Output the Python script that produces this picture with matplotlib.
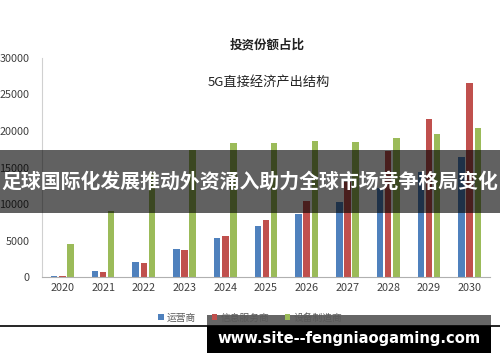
import matplotlib
matplotlib.use("Agg")
import matplotlib.pyplot as plt
import numpy as np
from matplotlib.patches import Rectangle

plt.rcParams['font.family'] = ['Noto Sans CJK SC', 'DejaVu Sans']

years = ["2020", "2021", "2022", "2023", "2024", "2025", "2026", "2027", "2028", "2029", "2030"]
operators = [200, 870, 2100, 3830, 5430, 7020, 8620, 10360, 12200, 14350, 16400]
info_services = [150, 780, 2000, 3700, 5610, 7800, 10440, 13000, 17300, 21600, 26500]
equipment = [4500, 9000, 14300, 17400, 18300, 18300, 18600, 18500, 19100, 19600, 20450]
series_names = ["运营商", "信息服务商", "设备制造商"]
colors = ["#4F81BD", "#C0504D", "#9BBB59"]
yticks = [0, 5000, 10000, 15000, 20000, 25000, 30000]

fig = plt.figure(figsize=(5.0, 3.62), dpi=100)
ax = fig.add_axes([0.084, 0.2337, 0.896, 0.607])

x = np.arange(len(years))
w = 0.16
off = 0.2
for i, (vals, c, n) in enumerate(zip([operators, info_services, equipment], colors, series_names)):
    ax.bar(x + (i - 1) * off, vals, width=w, color=c, label=n, zorder=2)

ax.set_xlim(-0.5, len(years) - 0.5)
ax.set_ylim(0, 30000)
ax.set_yticks(yticks)
ax.set_yticklabels([str(v) for v in yticks], fontsize=7.8, color="#404040")
ax.set_xticks(x)
ax.set_xticklabels(years, fontsize=7.8, color="#404040")
ax.tick_params(axis='both', length=0, pad=4)
ax.tick_params(axis='y', pad=9)
for s in ["top", "right"]:
    ax.spines[s].set_visible(False)
ax.spines["left"].set_color("#d0d0d0")
ax.spines["bottom"].set_color("#b0b0b0")

fig.text(0.534, 0.875, "投资份额占比", ha="center", va="center", fontsize=9,
         fontweight="bold", color="#222222")
fig.text(0.538, 0.773, "5G直接经济产出结构", ha="center", va="center", fontsize=9.5,
         color="#222222")

leg = fig.legend(loc="center", bbox_to_anchor=(0.5, 0.123), ncol=3, frameon=False,
                 fontsize=7, handlelength=0.6, handleheight=0.6, handletextpad=0.3,
                 columnspacing=1.6)
for t in leg.get_texts():
    t.set_color("#595959")

# banner overlay
fig.patches.append(Rectangle((0, 1 - 213 / 362), 1, 63 / 362, transform=fig.transFigure,
                             facecolor="black", alpha=0.62, zorder=5))
fig.text(0.5, 1 - 181 / 362, "足球国际化发展推动外资涌入助力全球市场竞争格局变化",
         ha="center", va="center", fontsize=14.3, fontweight="bold", color="white", zorder=6)

# bottom watermark
fig.patches.append(Rectangle((207 / 500, 1 - 326 / 362), 284 / 500, 11 / 362,
                             transform=fig.transFigure, facecolor="black", alpha=0.6, zorder=5))
fig.patches.append(Rectangle((207 / 500, 1 - 353 / 362), 284 / 500, 27 / 362,
                             transform=fig.transFigure, facecolor="black", zorder=5))
fig.lines.append(plt.Line2D([0, 1], [1 - 326 / 362, 1 - 326 / 362], transform=fig.transFigure,
                            color="black", lw=1.2, zorder=6))
fig.text(349 / 500, 1 - 338 / 362, "www.site--fengniaogaming.com", ha="center", va="center",
         fontsize=10.6, fontweight="bold", color="white", family="DejaVu Sans", zorder=7)

fig.savefig("out.png", dpi=100)
